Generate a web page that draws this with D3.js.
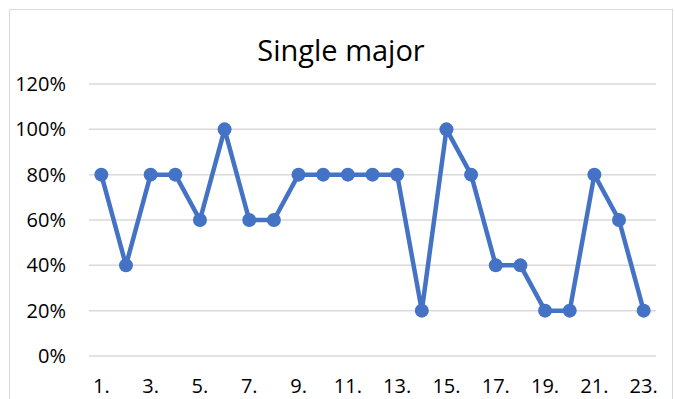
<!DOCTYPE html>
<html>
<head>
<meta charset="utf-8">
<script src="https://cdn.jsdelivr.net/npm/d3@7"></script>
<style>
html,body{margin:0;padding:0;background:#fff;}
svg{display:block;}
text{font-family:"Open Sans",sans-serif;fill:#000;}
</style>
</head>
<body>
<svg id="chart" width="675" height="399"></svg>
<script>
const title = "Single major";
const categories = ["1.","2.","3.","4.","5.","6.","7.","8.","9.","10.","11.","12.","13.","14.","15.","16.","17.","18.","19.","20.","21.","22.","23."];
const values = [0.8,0.4,0.8,0.8,0.6,1.0,0.6,0.6,0.8,0.8,0.8,0.8,0.8,0.2,1.0,0.8,0.4,0.4,0.2,0.2,0.8,0.6,0.2];
const yTicks = [0,0.2,0.4,0.6,0.8,1.0,1.2];

const svg = d3.select("#chart");
const W = 675, H = 399;
const m = {left:89, right:19, top:84, bottom:43};

svg.append("rect").attr("x",9.5).attr("y",9.5).attr("width",663).attr("height",400)
  .attr("fill","#fff").attr("stroke","#d9d9d9").attr("stroke-width",1);

const x = d3.scaleBand().domain(categories).range([m.left, W - m.right]).padding(0);
const y = d3.scaleLinear().domain([0,1.2]).range([H - m.bottom, m.top]);

// gridlines
svg.append("g").selectAll("line").data(yTicks).join("line")
  .attr("x1", m.left).attr("x2", W - m.right)
  .attr("y1", d=>y(d)).attr("y2", d=>y(d))
  .attr("stroke","#d9d9d9").attr("stroke-width",1.5);

// y axis labels
const yAxis = d3.axisLeft(y).tickValues(yTicks).tickFormat(d3.format(".0%")).tickSize(0).tickPadding(0);
const gy = svg.append("g").attr("transform",`translate(66,0)`).call(yAxis);
gy.select(".domain").remove();
gy.selectAll("text").style("font-family","'Open Sans',sans-serif").style("font-size","20px").attr("fill","#000");

// x axis labels
const xAxis = d3.axisBottom(x).tickValues(categories.filter((c,i)=>i%2===0)).tickSize(0).tickPadding(0);
const gx = svg.append("g").attr("transform",`translate(0,${y(0)+23})`).call(xAxis);
gx.select(".domain").remove();
gx.selectAll("text").style("font-family","'Open Sans',sans-serif").style("font-size","20px").attr("fill","#000");

// line
const line = d3.line().x((d,i)=>x(categories[i]) + x.bandwidth()/2).y(d=>y(d));
svg.append("path").datum(values).attr("d", line)
  .attr("fill","none").attr("stroke","#4472c4").attr("stroke-width",4.5).attr("stroke-linejoin","round");

svg.append("g").selectAll("circle").data(values).join("circle")
  .attr("cx",(d,i)=>x(categories[i]) + x.bandwidth()/2)
  .attr("cy",d=>y(d)).attr("r",7)
  .attr("fill","#4472c4");

svg.append("text").attr("x",341).attr("y",61).attr("text-anchor","middle")
  .style("font-size","29px").text(title);
</script>
</body>
</html>
